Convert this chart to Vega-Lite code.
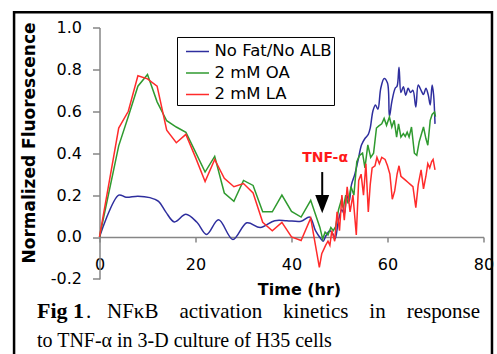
{
  "$schema": "https://vega.github.io/schema/vega-lite/v6.json",
  "width": 384,
  "height": 251.4,
  "autosize": {"type": "none"},
  "padding": {"left": 99.5, "top": 27.5, "right": 13.5, "bottom": 75},
  "background": "white",
  "config": {"font": "DejaVu Sans", "view": {"stroke": null}},
  "datasets": {
    "blue": [
      {"t": 0, "v": 0}, {"t": 4, "v": 0.2}, {"t": 5.5, "v": 0.19}, {"t": 8, "v": 0.195}, {"t": 10.5, "v": 0.188},
      {"t": 12.3, "v": 0.17}, {"t": 13.8, "v": 0.12}, {"t": 15.6, "v": 0.072}, {"t": 18, "v": 0.108}, {"t": 20.3, "v": 0.07},
      {"t": 22.3, "v": 0.012}, {"t": 24.8, "v": 0.082}, {"t": 27.8, "v": -0.012}, {"t": 30.7, "v": 0.068}, {"t": 33.5, "v": 0.045},
      {"t": 36.5, "v": 0.078}, {"t": 39, "v": 0.078}, {"t": 42, "v": 0.075}, {"t": 43.8, "v": 0.095}, {"t": 45, "v": 0.03},
      {"t": 46, "v": -0.005}, {"t": 46.6, "v": -0.02}, {"t": 47.2, "v": 0.007}, {"t": 48, "v": 0.03}, {"t": 48.7, "v": 0.012},
      {"t": 49.1, "v": -0.008}, {"t": 49.8, "v": 0.08}, {"t": 50.5, "v": 0.13}, {"t": 51, "v": 0.11}, {"t": 51.5, "v": 0.2},
      {"t": 52, "v": 0.17}, {"t": 52.5, "v": 0.25}, {"t": 53.2, "v": 0.3}, {"t": 53.9, "v": 0.37}, {"t": 54.6, "v": 0.44},
      {"t": 55.3, "v": 0.47}, {"t": 56, "v": 0.49}, {"t": 56.4, "v": 0.52}, {"t": 57, "v": 0.605}, {"t": 57.5, "v": 0.63},
      {"t": 58, "v": 0.61}, {"t": 58.6, "v": 0.71}, {"t": 59.3, "v": 0.757}, {"t": 60, "v": 0.735}, {"t": 60.4, "v": 0.575},
      {"t": 60.9, "v": 0.645}, {"t": 61.6, "v": 0.71}, {"t": 62, "v": 0.72}, {"t": 62.4, "v": 0.81}, {"t": 62.8, "v": 0.69},
      {"t": 63.3, "v": 0.717}, {"t": 63.8, "v": 0.677}, {"t": 64.3, "v": 0.71}, {"t": 64.8, "v": 0.69}, {"t": 65.3, "v": 0.7},
      {"t": 65.9, "v": 0.62}, {"t": 66.4, "v": 0.725}, {"t": 67, "v": 0.7}, {"t": 67.5, "v": 0.68}, {"t": 68, "v": 0.71},
      {"t": 68.5, "v": 0.677}, {"t": 68.9, "v": 0.63}, {"t": 69.3, "v": 0.725}, {"t": 69.6, "v": 0.68}, {"t": 69.9, "v": 0.54}
    ],
    "green": [
      {"t": 0, "v": 0}, {"t": 4, "v": 0.435}, {"t": 6, "v": 0.575}, {"t": 8, "v": 0.72}, {"t": 10, "v": 0.776},
      {"t": 12, "v": 0.645}, {"t": 14, "v": 0.555}, {"t": 16, "v": 0.525}, {"t": 18, "v": 0.5}, {"t": 20, "v": 0.405},
      {"t": 22, "v": 0.31}, {"t": 24, "v": 0.385}, {"t": 26, "v": 0.21}, {"t": 28, "v": 0.17}, {"t": 30, "v": 0.27},
      {"t": 32, "v": 0.246}, {"t": 34, "v": 0.12}, {"t": 36, "v": 0.12}, {"t": 38, "v": 0.2}, {"t": 40, "v": 0.122},
      {"t": 42, "v": 0.095}, {"t": 44, "v": 0.175}, {"t": 45.9, "v": 0.047}, {"t": 46.5, "v": -0.01}, {"t": 47, "v": 0.023},
      {"t": 47.6, "v": 0.01}, {"t": 48.2, "v": 0.045}, {"t": 48.7, "v": 0.03}, {"t": 49.2, "v": 0.05}, {"t": 49.8, "v": 0.13},
      {"t": 50.3, "v": 0.17}, {"t": 50.8, "v": 0.14}, {"t": 51.3, "v": 0.2}, {"t": 51.8, "v": 0.16}, {"t": 52.4, "v": 0.24},
      {"t": 53, "v": 0.2}, {"t": 53.6, "v": 0.36}, {"t": 54.2, "v": 0.39}, {"t": 54.8, "v": 0.4}, {"t": 55.3, "v": 0.33},
      {"t": 55.9, "v": 0.44}, {"t": 56.5, "v": 0.38}, {"t": 57.1, "v": 0.4}, {"t": 57.7, "v": 0.52}, {"t": 58.2, "v": 0.53},
      {"t": 58.8, "v": 0.54}, {"t": 59.3, "v": 0.566}, {"t": 59.8, "v": 0.533}, {"t": 60.4, "v": 0.573}, {"t": 60.9, "v": 0.525},
      {"t": 61.4, "v": 0.557}, {"t": 61.9, "v": 0.477}, {"t": 62.3, "v": 0.54}, {"t": 62.8, "v": 0.477}, {"t": 63.3, "v": 0.494},
      {"t": 63.7, "v": 0.48}, {"t": 64.1, "v": 0.5}, {"t": 64.5, "v": 0.477}, {"t": 65, "v": 0.525}, {"t": 65.6, "v": 0.4},
      {"t": 66.1, "v": 0.39}, {"t": 66.6, "v": 0.454}, {"t": 67, "v": 0.486}, {"t": 67.5, "v": 0.525}, {"t": 68, "v": 0.47},
      {"t": 68.4, "v": 0.438}, {"t": 68.9, "v": 0.557}, {"t": 69.3, "v": 0.585}, {"t": 69.8, "v": 0.597}, {"t": 70, "v": 0.575}
    ],
    "red": [
      {"t": 0, "v": 0}, {"t": 4, "v": 0.52}, {"t": 6, "v": 0.6}, {"t": 8, "v": 0.77}, {"t": 10, "v": 0.755},
      {"t": 12, "v": 0.72}, {"t": 14, "v": 0.51}, {"t": 16, "v": 0.45}, {"t": 18, "v": 0.49}, {"t": 20, "v": 0.38},
      {"t": 22, "v": 0.265}, {"t": 24, "v": 0.37}, {"t": 26, "v": 0.28}, {"t": 28, "v": 0.24}, {"t": 30, "v": 0.255},
      {"t": 32, "v": 0.21}, {"t": 34, "v": 0.07}, {"t": 36, "v": 0.03}, {"t": 38, "v": 0.07}, {"t": 40, "v": 0},
      {"t": 42, "v": -0.017}, {"t": 44, "v": 0.09}, {"t": 45.8, "v": -0.145}, {"t": 46.3, "v": -0.08}, {"t": 46.7, "v": -0.06},
      {"t": 47.1, "v": -0.04}, {"t": 47.6, "v": -0.02}, {"t": 48, "v": -0.04}, {"t": 48.4, "v": 0.03}, {"t": 49, "v": -0.02},
      {"t": 49.5, "v": 0.12}, {"t": 50, "v": 0.03}, {"t": 50.5, "v": 0.2}, {"t": 51, "v": 0.08}, {"t": 51.6, "v": 0.24},
      {"t": 52.2, "v": 0.12}, {"t": 52.8, "v": 0.2}, {"t": 53.5, "v": 0.01}, {"t": 54, "v": 0.27}, {"t": 54.5, "v": 0.3},
      {"t": 55, "v": 0.2}, {"t": 55.5, "v": 0.35}, {"t": 56, "v": 0.12}, {"t": 56.4, "v": 0.25}, {"t": 56.8, "v": 0.33},
      {"t": 57.4, "v": 0.34}, {"t": 57.8, "v": 0.38}, {"t": 58.3, "v": 0.35}, {"t": 58.8, "v": 0.38}, {"t": 59.5, "v": 0.37},
      {"t": 60, "v": 0.34}, {"t": 60.5, "v": 0.3}, {"t": 61, "v": 0.18}, {"t": 61.5, "v": 0.22}, {"t": 62, "v": 0.3},
      {"t": 62.4, "v": 0.34}, {"t": 62.8, "v": 0.29}, {"t": 63.3, "v": 0.28}, {"t": 63.8, "v": 0.27}, {"t": 64.3, "v": 0.26},
      {"t": 64.8, "v": 0.25}, {"t": 65.3, "v": 0.24}, {"t": 65.9, "v": 0.14}, {"t": 66.4, "v": 0.25}, {"t": 67, "v": 0.32},
      {"t": 67.5, "v": 0.23}, {"t": 68, "v": 0.29}, {"t": 68.4, "v": 0.35}, {"t": 68.8, "v": 0.33}, {"t": 69.2, "v": 0.36},
      {"t": 69.5, "v": 0.37}, {"t": 69.9, "v": 0.32}
    ]
  },
  "layer": [
    {
      "data": {"values": [{}]},
      "mark": {"type": "rect", "fill": null, "stroke": "black", "strokeWidth": 2.5, "clip": false},
      "encoding": {
        "x": {"datum": -17.8}, "x2": {"datum": 81.77},
        "y": {"datum": 1.073}, "y2": {"datum": -0.62}
      }
    },
    {
      "data": {"name": "blue"},
      "mark": {"type": "line", "interpolate": "catmull-rom", "strokeWidth": 1.5},
      "encoding": {
        "x": {
          "field": "t", "type": "quantitative",
          "scale": {"domain": [0, 80], "nice": false, "zero": false},
          "axis": {
            "title": "Time (hr)", "values": [0, 20, 40, 60, 80], "format": "d",
            "offset": -41.9, "tickSize": 5, "labelPadding": 15, "labelFontSize": 16,
            "titleFontSize": 16, "titleFontWeight": "bold", "titlePadding": 9, "titleX": 199.5,
            "domainColor": "#868686", "tickColor": "#868686", "domainWidth": 1.5, "tickWidth": 1.5,
            "labelColor": "black", "titleColor": "black", "grid": false, "labelFlush": false
          }
        },
        "y": {
          "field": "v", "type": "quantitative",
          "scale": {"domain": [-0.2, 1.0], "nice": false, "zero": false},
          "axis": {
            "title": "Normalized Fluorescence", "values": [-0.2, 0, 0.2, 0.4, 0.6, 0.8, 1.0],
            "labelExpr": "replace(format(datum.value, '.1f'), '\u2212', '-')",
            "tickSize": 7, "labelPadding": 11, "labelFontSize": 16,
            "titleFontSize": 17, "titleFontWeight": "bold", "titlePadding": 12, "titleY": 115,
            "domainColor": "#868686", "tickColor": "#868686", "domainWidth": 1.5, "tickWidth": 1.5,
            "labelColor": "black", "titleColor": "black", "grid": false
          }
        },
        "color": {
          "datum": "No Fat/No ALB",
          "scale": {"domain": ["No Fat/No ALB", "2 mM OA", "2 mM LA"], "range": ["#2e2e9e", "#2f9a2f", "#ff2b2b"]},
          "legend": {
            "title": null, "orient": "none", "legendX": 77.5, "legendY": 9.5,
            "symbolType": "stroke", "symbolSize": 529, "symbolStrokeWidth": 1.5,
            "labelFontSize": 16.5, "labelFont": "DejaVu Sans", "labelColor": "black",
            "padding": 2, "rowPadding": 0.5, "symbolOffset": 6, "labelOffset": 4.5,
            "strokeColor": "black", "fillColor": "white"
          }
        }
      }
    },
    {
      "data": {"name": "green"},
      "mark": {"type": "line", "strokeWidth": 1.5},
      "encoding": {
        "x": {"field": "t", "type": "quantitative"},
        "y": {"field": "v", "type": "quantitative"},
        "color": {"datum": "2 mM OA"}
      }
    },
    {
      "data": {"name": "red"},
      "mark": {"type": "line", "strokeWidth": 1.5},
      "encoding": {
        "x": {"field": "t", "type": "quantitative"},
        "y": {"field": "v", "type": "quantitative"},
        "color": {"datum": "2 mM LA"}
      }
    },
    {
      "data": {"values": [{}]},
      "mark": {"type": "rule", "color": "black", "strokeWidth": 2},
      "encoding": {
        "x": {"datum": 46.4},
        "y": {"datum": 0.31}, "y2": {"datum": 0.185}
      }
    },
    {
      "data": {"values": [{}]},
      "mark": {"type": "point", "shape": "M-1,-1.3L1,-1.3L0,1.3Z", "size": 196, "filled": true, "color": "black", "opacity": 1, "strokeWidth": 0},
      "encoding": {
        "x": {"datum": 46.4},
        "y": {"datum": 0.157}
      }
    },
    {
      "data": {"values": [{}]},
      "mark": {"type": "text", "text": "TNF-α", "font": "DejaVu Sans", "fontSize": 14, "fontWeight": "bold", "fill": "#ff1a1a", "align": "center", "baseline": "middle"},
      "encoding": {
        "x": {"datum": 47},
        "y": {"datum": 0.375}
      }
    },
    {
      "data": {"values": [{}]},
      "mark": {"type": "text", "text": "Fig 1", "font": "Liberation Serif", "fontSize": 22, "fontWeight": "bold", "fill": "black", "align": "left", "baseline": "top", "clip": false},
      "encoding": {
        "x": {"datum": -13.02},
        "y": {"datum": -0.3035}
      }
    },
    {
      "data": {"values": [{}]},
      "mark": {"type": "text", "text": ". \u00a0\u00a0NFκB \u00a0\u00a0\u00a0activation \u00a0\u00a0\u00a0kinetics \u00a0\u00a0\u00a0in \u00a0\u00a0\u00a0response", "font": "Liberation Serif", "fontSize": 21, "fontWeight": "normal", "fill": "black", "align": "left", "baseline": "top", "clip": false},
      "encoding": {
        "x": {"datum": -2.81},
        "y": {"datum": -0.3055}
      }
    },
    {
      "data": {"values": [{}]},
      "mark": {"type": "text", "text": "to TNF-α in 3-D culture of H35 cells", "font": "Liberation Serif", "fontSize": 20, "fontWeight": "normal", "fill": "black", "align": "left", "baseline": "top", "clip": false},
      "encoding": {
        "x": {"datum": -13.02},
        "y": {"datum": -0.4477}
      }
    }
  ]
}
